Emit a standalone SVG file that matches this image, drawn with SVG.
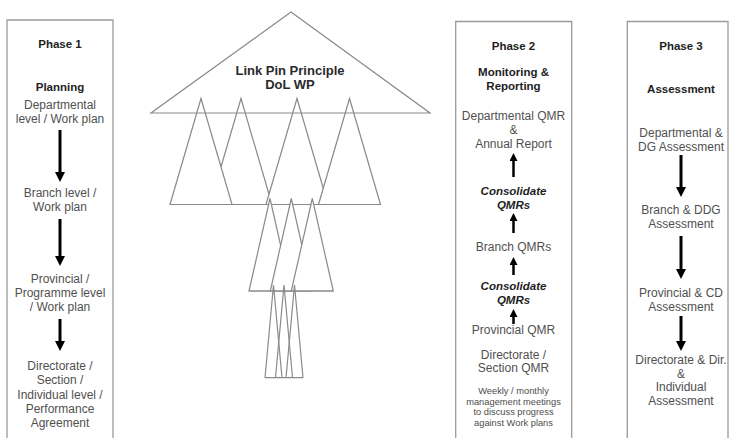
<svg xmlns="http://www.w3.org/2000/svg" width="730" height="438" viewBox="0 0 730 438">
<defs>
<style>
.box{fill:none;stroke:#9a9a9a;stroke-width:1.3}
.tri{fill:#fff;stroke:#8a8a8a;stroke-width:1.2;stroke-linejoin:miter}
.ln{fill:none;stroke:#8a8a8a;stroke-width:1.2}
text{font-family:"Liberation Sans",Arial,sans-serif;text-anchor:middle}
.hd{font-size:11.5px;font-weight:bold;fill:#1e1e1e}
.bd{font-size:12px;fill:#505050}
.sm{font-size:9.3px;fill:#4d4d4d}
.cq{font-size:11.5px;font-weight:bold;font-style:italic;fill:#1e1e1e}
.lp{font-size:13px;font-weight:bold;fill:#2a2a2a}
.ar{stroke:#000;stroke-width:3;fill:none}
.ar2{stroke:#000;stroke-width:2.5;fill:none}
</style>
<marker id="ahL" viewBox="0 0 10 10" refX="0" refY="5" markerWidth="10" markerHeight="11" markerUnits="userSpaceOnUse" orient="auto"><path d="M0,0 L10,5 L0,10 Z" fill="#000"/></marker>
<marker id="ahS" viewBox="0 0 10 10" refX="0" refY="5" markerWidth="8" markerHeight="8" markerUnits="userSpaceOnUse" orient="auto"><path d="M0,0 L10,5 L0,10 Z" fill="#000"/></marker>
</defs>

<g id="phase1">
<path class="box" d="M7,438 V20 H113 V438"/>
<text class="hd" x="60" y="48">Phase 1</text>
<text class="hd" x="60" y="91">Planning</text>
<text class="bd" x="60" y="108.5">Departmental</text>
<text class="bd" x="60" y="122.5">level / Work plan</text>
<text class="bd" x="60" y="197">Branch level /</text>
<text class="bd" x="60" y="211">Work plan</text>
<text class="bd" x="60" y="282.5">Provincial /</text>
<text class="bd" x="60" y="296.5">Programme level</text>
<text class="bd" x="60" y="310.5">/ Work plan</text>
<text class="bd" x="60" y="370">Directorate /</text>
<text class="bd" x="60" y="384">Section /</text>
<text class="bd" x="60" y="398.5">Individual level /</text>
<text class="bd" x="60" y="412.5">Performance</text>
<text class="bd" x="60" y="426.5">Agreement</text>
</g>

<g id="linkpin">
<polygon class="tri" points="241,98.5 210,204.5 272,204.5"/>
<polygon class="tri" points="201,98.5 170,204.5 232,204.5"/>
<polygon class="tri" points="297,98.5 266,204.5 328,204.5"/>
<polygon class="tri" points="349.5,98.5 318.5,204.5 380.5,204.5"/>
<polygon class="ln" points="291,12 151,113 430,113"/>
<line class="ln" x1="170" y1="204.5" x2="380.5" y2="204.5"/>
<polygon class="tri" points="270,198.5 249,291 291,291"/>
<polygon class="tri" points="291.3,198.5 270.3,291 312.3,291"/>
<polygon class="tri" points="312.3,198.5 291.3,291 333.3,291"/>
<line class="ln" x1="249" y1="291" x2="333.3" y2="291"/>
<polyline class="ln" points="265,377.7 273.5,285 282,377.7"/>
<polyline class="ln" points="275.5,377.7 284,285 292.5,377.7"/>
<polyline class="ln" points="286,377.7 294.5,285 303,377.7"/>
<line class="ln" x1="265" y1="377.7" x2="303" y2="377.7"/>
<text class="lp" x="290" y="75">Link Pin Principle</text>
<text class="lp" x="290" y="88.5">DoL WP</text>
</g>

<g id="phase2">
<path class="box" d="M455.7,438 V21.5 H571.7 V438"/>
<text class="hd" x="513.5" y="50">Phase 2</text>
<text class="hd" x="513.5" y="76">Monitoring &amp;</text>
<text class="hd" x="513.5" y="89.5">Reporting</text>
<text class="bd" x="513.5" y="119.5">Departmental QMR</text>
<text class="bd" x="513.5" y="133.5">&amp;</text>
<text class="bd" x="513.5" y="147.5">Annual Report</text>
<text class="cq" x="513.5" y="195">Consolidate</text>
<text class="cq" x="513.5" y="208.5">QMRs</text>
<text class="bd" x="513.5" y="250.5">Branch QMRs</text>
<text class="cq" x="513.5" y="290">Consolidate</text>
<text class="cq" x="513.5" y="304">QMRs</text>
<text class="bd" x="513.5" y="333.5">Provincial QMR</text>
<text class="bd" x="513.5" y="358.5">Directorate /</text>
<text class="bd" x="513.5" y="372">Section QMR</text>
<text class="sm" x="513.5" y="394">Weekly / monthly</text>
<text class="sm" x="513.5" y="404.5">management meetings</text>
<text class="sm" x="513.5" y="415">to discuss progress</text>
<text class="sm" x="513.5" y="425.5">against Work plans</text>
</g>

<g id="phase3">
<path class="box" d="M627.3,438 V21.5 H728 V438"/>
<text class="hd" x="681" y="50">Phase 3</text>
<text class="hd" x="681" y="92.5">Assessment</text>
<text class="bd" x="681" y="137">Departmental &amp;</text>
<text class="bd" x="681" y="150.5">DG Assessment</text>
<text class="bd" x="681" y="214">Branch &amp; DDG</text>
<text class="bd" x="681" y="228">Assessment</text>
<text class="bd" x="681" y="297">Provincial &amp; CD</text>
<text class="bd" x="681" y="310.5">Assessment</text>
<text class="bd" x="681" y="364">Directorate &amp; Dir.</text>
<text class="bd" x="681" y="377.5">&amp;</text>
<text class="bd" x="681" y="391">Individual</text>
<text class="bd" x="681" y="404.5">Assessment</text>
</g>

<g id="connectors">
<line class="ar" x1="60" y1="130" x2="60" y2="172" marker-end="url(#ahL)"/>
<line class="ar" x1="60" y1="219" x2="60" y2="256" marker-end="url(#ahL)"/>
<line class="ar" x1="60" y1="319" x2="60" y2="341" marker-end="url(#ahL)"/>
<line class="ar" x1="681" y1="155" x2="681" y2="187" marker-end="url(#ahL)"/>
<line class="ar" x1="681" y1="236" x2="681" y2="269" marker-end="url(#ahL)"/>
<line class="ar" x1="681" y1="316" x2="681" y2="341" marker-end="url(#ahL)"/>
<line class="ar2" x1="513.5" y1="177" x2="513.5" y2="161" marker-end="url(#ahS)"/>
<line class="ar2" x1="513.5" y1="233" x2="513.5" y2="221" marker-end="url(#ahS)"/>
<line class="ar2" x1="513.5" y1="275" x2="513.5" y2="265" marker-end="url(#ahS)"/>
<line class="ar2" x1="513.5" y1="324" x2="513.5" y2="317" stroke-width="2" marker-end="url(#ahS)"/>
</g>
</svg>
